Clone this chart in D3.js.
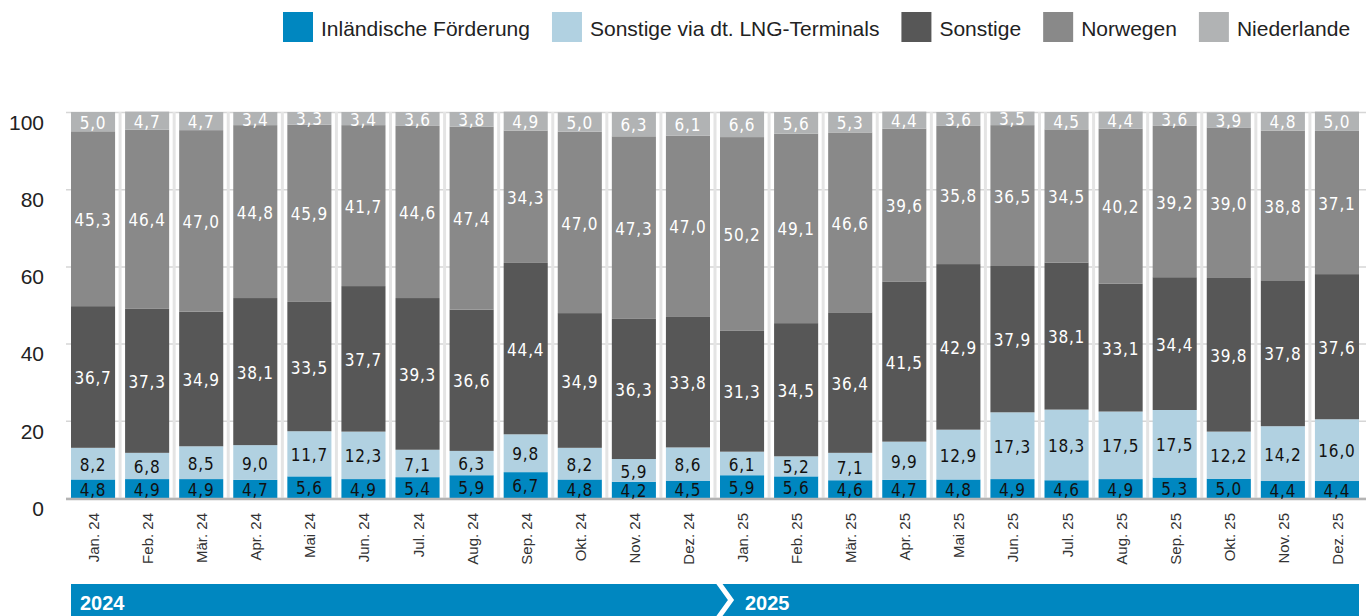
<!DOCTYPE html>
<html>
<head>
<meta charset="utf-8">
<script src="https://cdn.jsdelivr.net/npm/d3@7"></script>
<style>
  body { margin: 0; background: #fff; }
  svg { display: block; }
  .tick text { font-family: "Liberation Sans", Arial, sans-serif; }
</style>
</head>
<body>
<svg width="1366" height="616"></svg>
<script>
// months shown on the x axis
var months = ["Jan. 24","Feb. 24","Mär. 24","Apr. 24","Mai 24","Jun. 24","Jul. 24","Aug. 24","Sep. 24","Okt. 24","Nov. 24","Dez. 24",
              "Jan. 25","Feb. 25","Mär. 25","Apr. 25","Mai 25","Jun. 25","Jul. 25","Aug. 25","Sep. 25","Okt. 25","Nov. 25","Dez. 25"];

var inland    = [4.8,4.9,4.9,4.7,5.6,4.9,5.4,5.9,6.7,4.8,4.2,4.5, 5.9,5.6,4.6,4.7,4.8,4.9,4.6,4.9,5.3,5.0,4.4,4.4];
var lng       = [8.2,6.8,8.5,9.0,11.7,12.3,7.1,6.3,9.8,8.2,5.9,8.6, 6.1,5.2,7.1,9.9,12.9,17.3,18.3,17.5,17.5,12.2,14.2,16.0];
var sonstige  = [36.7,37.3,34.9,38.1,33.5,37.7,39.3,36.6,44.4,34.9,36.3,33.8, 31.3,34.5,36.4,41.5,42.9,37.9,38.1,33.1,34.4,39.8,37.8,37.6];
var norwegen  = [45.3,46.4,47.0,44.8,45.9,41.7,44.6,47.4,34.3,47.0,47.3,47.0, 50.2,49.1,46.6,39.6,35.8,36.5,34.5,40.2,39.2,39.0,38.8,37.1];
var niederl   = [5.0,4.7,4.7,3.4,3.3,3.4,3.6,3.8,4.9,5.0,6.3,6.1, 6.6,5.6,5.3,4.4,3.6,3.5,4.5,4.4,3.6,3.9,4.8,5.0];

var seriesNames = ["Inländische Förderung","Sonstige via dt. LNG-Terminals","Sonstige","Norwegen","Niederlande"];
var keys = ["inland","lng","sonstige","norwegen","niederl"];
var colors = ["#0087c0","#b1d1e1","#575757","#898989","#b1b3b4"];
var labelColors = ["#111","#111","#fff","#fff","#fff"];
var yTicks = [0,20,40,60,80,100];
var years = ["2024","2025"];

var table = months.map(function(m, i) {
  return {month: m, inland: inland[i], lng: lng[i], sonstige: sonstige[i], norwegen: norwegen[i], niederl: niederl[i]};
});

var svg = d3.select("svg");

var x = d3.scaleBand()
  .domain(months)
  .range([66, 1364])
  .paddingInner(0.185)
  .paddingOuter(0.0925);

var y = d3.scaleLinear()
  .domain([0, 100])
  .range([498, 112]);

// horizontal grid
svg.append("g")
  .attr("transform", "translate(66,0)")
  .call(d3.axisLeft(y).tickValues(yTicks).tickSize(-1300).tickFormat(""))
  .call(function(g) { g.select(".domain").remove(); })
  .selectAll("line").attr("stroke", "#d6d6d6").attr("stroke-width", 1.5);

// vertical separators between bars
var step = x.step();
svg.append("g").selectAll("line")
  .data(months.slice(1))
  .enter().append("line")
  .attr("x1", function(d) { return x(d) - (step - x.bandwidth()) / 2; })
  .attr("x2", function(d) { return x(d) - (step - x.bandwidth()) / 2; })
  .attr("y1", y(100))
  .attr("y2", y(0))
  .attr("stroke", "#e4e4e4")
  .attr("stroke-width", 3);

// y axis labels (sit a little below their grid line)
svg.append("g")
  .attr("transform", "translate(66,0)")
  .call(d3.axisLeft(y).tickValues(yTicks).tickSize(0).tickPadding(22))
  .call(function(g) { g.select(".domain").remove(); })
  .selectAll("text")
  .attr("font-size", 21)
  .attr("dy", "0.82em")
  .attr("fill", "#222");

var stack = d3.stack().keys(keys);
var layers = stack(table);

var layer = svg.append("g").selectAll("g")
  .data(layers)
  .enter().append("g")
  .attr("fill", function(d, i) { return colors[i]; });

layer.selectAll("rect")
  .data(function(d) { return d; })
  .enter().append("rect")
  .attr("x", function(d) { return x(d.data.month); })
  .attr("y", function(d) { return y(d[1]); })
  .attr("height", function(d) { return y(d[0]) - y(d[1]); })
  .attr("width", x.bandwidth());

// baseline
svg.append("line")
  .attr("x1", 66).attr("x2", 1366)
  .attr("y1", y(0) + 1).attr("y2", y(0) + 1)
  .attr("stroke", "#b4b4b4")
  .attr("stroke-width", 2.5);

// value labels
var fmt = d3.format(".1f");
layers.forEach(function(l, li) {
  svg.append("g").selectAll("text")
    .data(l)
    .enter().append("text")
    .attr("x", function(d) { return x(d.data.month) + x.bandwidth() / 2; })
    .attr("y", function(d) { return (y(d[0]) + y(d[1])) / 2 + 1; })
    .attr("dy", "0.36em")
    .attr("text-anchor", "middle")
    .attr("font-family", "'Liberation Sans Narrow', 'DejaVu Sans Condensed', sans-serif")
    .attr("font-size", 17)
    .attr("letter-spacing", 0.8)
    .attr("fill", labelColors[li])
    .text(function(d) { return fmt(d.data[keys[li]]).replace(".", ","); });
});

// x axis labels
svg.append("g")
  .attr("transform", "translate(0,513)")
  .call(d3.axisBottom(x).tickSize(0).tickPadding(0))
  .call(function(g) { g.select(".domain").remove(); })
  .selectAll("text")
  .attr("font-size", 15)
  .attr("fill", "#333")
  .attr("text-anchor", "end")
  .attr("y", 0)
  .attr("dy", 0)
  .attr("transform", "translate(6,0) rotate(-90)");

// year banner
var x0 = x(months[0]), x1 = x(months[months.length - 1]) + x.bandwidth();
svg.append("rect")
  .attr("x", x0).attr("y", 584)
  .attr("width", x1 - x0).attr("height", 40)
  .attr("fill", "#0087c0");
var cx = x(months[12]) - 1;
svg.append("polyline")
  .attr("points", [[cx - 1, 582], [cx + 12, 600], [cx - 1, 618]].join(" "))
  .attr("fill", "none")
  .attr("stroke", "#fff")
  .attr("stroke-width", 5);
svg.append("g").selectAll("text")
  .data(years)
  .enter().append("text")
  .attr("x", function(d, i) { return i === 0 ? x0 + 9 : cx + 26; })
  .attr("y", 610)
  .attr("font-family", "'Liberation Sans', Arial, sans-serif")
  .attr("font-weight", "bold")
  .attr("font-size", 20)
  .attr("fill", "#fff")
  .text(function(d) { return d; });

// legend
var lx = 283;
seriesNames.forEach(function(name, i) {
  svg.append("rect")
    .attr("x", lx).attr("y", 12)
    .attr("width", 30).attr("height", 30)
    .attr("fill", colors[i]);
  var t = svg.append("text")
    .attr("x", lx + 38).attr("y", 36)
    .attr("font-family", "'Liberation Sans', Arial, sans-serif")
    .attr("font-size", 21)
    .attr("fill", "#222")
    .text(name);
  lx += 38 + t.node().getComputedTextLength() + 22;
});
</script>
</body>
</html>
